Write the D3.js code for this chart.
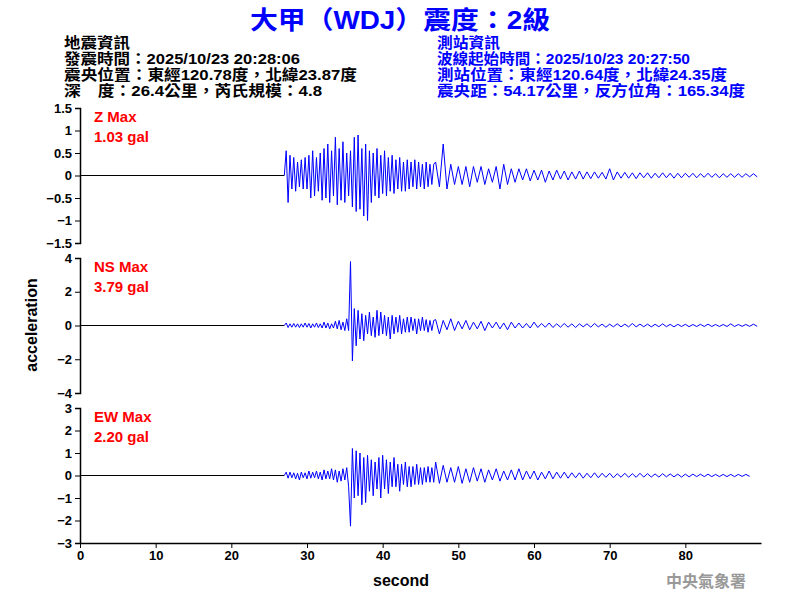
<!DOCTYPE html>
<html><head><meta charset="utf-8">
<script src="https://cdn.jsdelivr.net/npm/d3@7"></script>
<style>body{margin:0;background:#fff}</style>
</head><body><div id="canvas"></div>
<script>
"use strict"

// traces: dense part 27-47 s every 0.25 s, sparse part 47-90 s every 0.5 s
let zDense = [0,0.55,-0.6,0.45,-0.3,0.4,-0.35,0.3,-0.25,0.35,-0.3,0.4,-0.3,0.45,-0.5,0.55,-0.45,0.4,-0.35,0.5,-0.55,0.6,-0.5,0.7,-0.6,0.55,-0.45,0.85,-0.65,0.6,-0.55,0.75,-0.6,0.5,-0.45,0.55,-0.7,0.85,-0.8,0.9,-0.75,0.6,-0.9,0.7,-1.0,0.55,-0.6,0.5,-0.45,0.6,-0.5,0.45,-0.4,0.55,-0.45,0.4,-0.35,0.45,-0.4,0.35,-0.3,0.4,-0.35,0.3,-0.35,0.35,-0.3,0.3,-0.25,0.35,-0.3,0.3,-0.25,0.25,-0.3,0.3,-0.25,0.25,-0.2,0.25];
let zSparse = [0.3,-0.25,0.7,-0.3,0.25,-0.2,0.2,-0.2,0.2,-0.25,0.2,-0.15,0.2,-0.2,0.15,-0.15,0.2,-0.3,0.25,-0.2,0.15,-0.15,0.15,-0.1,0.15,-0.12,0.12,-0.1,0.12,-0.15,0.1,-0.1,0.12,-0.08,0.1,-0.1,0.08,-0.08,0.1,-0.08,0.08,-0.07,0.08,-0.06,0.07,-0.08,0.15,-0.1,0.08,-0.06,0.07,-0.06,0.06,-0.07,0.06,-0.05,0.06,-0.06,0.05,-0.05,0.06,-0.05,0.05,-0.06,0.05,-0.05,0.05,-0.04,0.05,-0.05,0.04,-0.04,0.05,-0.04,0.04,-0.05,0.04,-0.04,0.04,-0.04,0.04,-0.04,0.04,-0.03,0.04,-0.03];
let nsDense = [0,0.15,-0.12,0.1,-0.1,0.12,-0.1,0.1,-0.12,0.1,-0.1,0.15,-0.1,0.12,-0.15,0.1,-0.1,0.15,-0.12,0.1,-0.15,0.2,-0.15,0.15,-0.2,0.1,-0.15,0.25,-0.2,0.3,-0.25,0.2,-0.3,0.4,-0.3,3.79,-2.1,1.0,-1.2,0.9,-0.8,0.7,-0.9,0.6,-0.5,0.8,-0.6,0.5,-0.7,0.9,-0.6,0.8,-0.5,0.6,-0.6,0.5,-0.8,0.6,-0.5,0.5,-0.4,0.6,-0.5,0.4,-0.4,0.5,-0.4,0.5,-0.3,0.4,-0.5,0.4,-0.3,0.5,-0.3,0.35,-0.4,0.3,-0.3,0.3];
let nsSparse = [0.35,-0.5,0.3,-0.25,0.4,-0.3,0.25,-0.2,0.3,-0.25,0.2,-0.2,0.25,-0.3,0.2,-0.15,0.2,-0.2,0.15,-0.25,0.2,-0.15,0.15,-0.15,0.12,-0.15,0.2,-0.12,0.12,-0.1,0.15,-0.12,0.1,-0.1,0.12,-0.1,0.1,-0.12,0.1,-0.08,0.1,-0.1,0.12,-0.08,0.08,-0.1,0.08,-0.08,0.1,-0.08,0.08,-0.08,0.12,-0.08,0.08,-0.07,0.08,-0.08,0.07,-0.07,0.1,-0.07,0.07,-0.08,0.07,-0.06,0.07,-0.07,0.06,-0.06,0.07,-0.06,0.08,-0.06,0.06,-0.06,0.06,-0.06,0.1,-0.06,0.06,-0.05,0.06,-0.05,0.08,-0.05];
let ewDense = [0,0.15,-0.12,0.15,-0.1,0.12,-0.15,0.1,-0.2,0.15,-0.1,0.12,-0.15,0.2,-0.12,0.15,-0.1,0.2,-0.15,0.15,-0.2,0.25,-0.15,0.2,-0.15,0.3,-0.2,0.25,-0.3,0.2,-0.25,0.3,-0.2,0.35,-0.5,-2.25,1.2,-1.0,1.1,-0.9,1.0,-1.3,0.8,-1.2,0.9,-0.7,0.7,-0.9,0.6,-0.6,0.8,-1.0,0.9,-0.6,0.7,-0.8,0.6,-0.5,0.8,-0.5,0.5,-0.7,0.5,-0.4,0.6,-0.5,0.4,-0.5,0.4,-0.4,0.5,-0.4,0.35,-0.4,0.35,-0.3,0.4,-0.3,0.35,-0.3];
let ewSparse = [0.6,-0.35,0.45,-0.3,0.35,-0.3,0.4,-0.35,0.3,-0.3,0.35,-0.25,0.3,-0.3,0.25,-0.2,0.3,-0.25,0.2,-0.2,0.25,-0.2,0.3,-0.2,0.2,-0.15,0.2,-0.2,0.15,-0.15,0.2,-0.15,0.15,-0.12,0.15,-0.12,0.12,-0.1,0.12,-0.12,0.1,-0.1,0.12,-0.1,0.1,-0.08,0.1,-0.1,0.08,-0.08,0.1,-0.08,0.08,-0.08,0.1,-0.07,0.08,-0.07,0.07,-0.07,0.08,-0.06,0.07,-0.06,0.06,-0.07,0.06,-0.06,0.06,-0.05,0.06,-0.05,0.06,-0.05,0.05,-0.05,0.05,-0.05,0.05,-0.05,0.05,-0.04,0.05,-0.04];

let panelNames = ["Z Max", "NS Max", "EW Max"];
let panelPeaks = ["1.03 gal", "3.79 gal", "2.20 gal"];
let panelLimits = [1.5, 4, 3];
let panelTicks = [
  [1.5, 1, 0.5, 0, -0.5, -1, -1.5],
  [4, 2, 0, -2, -4],
  [3, 2, 1, 0, -1, -2, -3]
];
let timeTicks = [0, 10, 20, 30, 40, 50, 60, 70, 80];
let traces = [[zDense, zSparse], [nsDense, nsSparse], [ewDense, ewSparse]];

let leftInfo = ["地震資訊", "發震時間：2025/10/23 20:28:06", "震央位置：東經120.78度，北緯23.87度", "深　度：26.4公里，芮氏規模：4.8"];
let rightInfo = ["測站資訊", "波線起始時間：2025/10/23 20:27:50", "測站位置：東經120.64度，北緯24.35度", "震央距：54.17公里，反方位角：165.34度"];
// rendered widths of the header lines, to mimic the original wide CJK font
let leftWidths = [66, 236, 293, 258];
let rightWidths = [63, 253, 290, 308];

let drawing = d3.select("#canvas").append("svg")
  .attr("width", 800).attr("height", 600)
  .style("font-family", "Liberation Sans, Arial, sans-serif");

let x = d3.scaleLinear().domain([0, 90]).range([80, 761]);
let panelTop = [108, 258, 408];
let panelH = 135;

drawing.append("text").attr("x", 250).attr("y", 29)
  .attr("textLength", 300).attr("lengthAdjust", "spacingAndGlyphs")
  .attr("fill", "#0000ff").attr("font-size", 25).attr("font-weight", "bold")
  .style("font-family", "Liberation Sans, Noto Sans CJK TC, sans-serif")
  .text("大甲（WDJ）震度：2級");

leftInfo.forEach((t, i) => drawing.append("text").attr("x", 64).attr("y", 48 + i * 16)
  .attr("textLength", leftWidths[i]).attr("lengthAdjust", "spacingAndGlyphs")
  .attr("font-size", 15).attr("font-weight", "bold").attr("fill", "black")
  .style("font-family", "Liberation Sans, Noto Sans CJK TC, sans-serif").text(t));
rightInfo.forEach((t, i) => drawing.append("text").attr("x", 437).attr("y", 48 + i * 16)
  .attr("textLength", rightWidths[i]).attr("lengthAdjust", "spacingAndGlyphs")
  .attr("font-size", 15).attr("font-weight", "bold").attr("fill", "#0000ff")
  .style("font-family", "Liberation Sans, Noto Sans CJK TC, sans-serif").text(t));

traces.forEach((tr, p) => {
  let lim = panelLimits[p];
  let y = d3.scaleLinear().domain([-lim, lim]).range([panelTop[p] + panelH, panelTop[p]]);
  let pts = [];
  tr[0].forEach((v, i) => pts.push([27 + i * 0.25, v]));
  tr[1].forEach((v, i) => pts.push([47 + i * 0.5, v]));
  // quiet line before onset
  drawing.append("line").attr("x1", x(0)).attr("x2", x(27)).attr("y1", y(0)).attr("y2", y(0))
    .attr("stroke", "black").attr("stroke-width", 1);
  drawing.append("path").datum(pts)
    .attr("d", d3.line().x(d => x(d[0])).y(d => y(d[1])))
    .attr("fill", "none").attr("stroke", "#0000ff").attr("stroke-width", 1);
  let ax = drawing.append("g").attr("transform", "translate(80,0)")
    .call(d3.axisLeft(y).tickValues(panelTicks[p]).tickSize(5).tickFormat(d3.format("")));
  ax.select(".domain").attr("stroke-width", 1.5);
  ax.selectAll("text").attr("font-size", 13).attr("font-weight", "bold")
    .style("font-family", "Liberation Sans, Arial, sans-serif");
  drawing.append("text").attr("x", 94).attr("y", panelTop[p] + 14).attr("fill", "red")
    .attr("font-size", 15).attr("font-weight", "bold").text(panelNames[p]);
  drawing.append("text").attr("x", 94).attr("y", panelTop[p] + 34).attr("fill", "red")
    .attr("font-size", 15).attr("font-weight", "bold").text(panelPeaks[p]);
});

let xa = drawing.append("g").attr("transform", "translate(0,543)")
  .call(d3.axisBottom(x).tickValues(timeTicks).tickSize(5).tickSizeOuter(0));
xa.select(".domain").attr("stroke-width", 1.5);
xa.selectAll("text").attr("font-size", 13).attr("font-weight", "bold")
  .style("font-family", "Liberation Sans, Arial, sans-serif");

drawing.append("text").attr("x", 401).attr("y", 586).attr("text-anchor", "middle")
  .attr("font-size", 16).attr("font-weight", "bold").text("second");
drawing.append("text").attr("transform", "translate(37,325) rotate(-90)").attr("text-anchor", "middle")
  .attr("font-size", 16).attr("font-weight", "bold").text("acceleration");
drawing.append("text").attr("x", 746).attr("y", 587).attr("text-anchor", "end")
  .attr("font-size", 16).attr("font-weight", "bold").attr("fill", "#999")
  .style("font-family", "Noto Sans CJK TC, sans-serif").text("中央氣象署");
</script></body></html>
